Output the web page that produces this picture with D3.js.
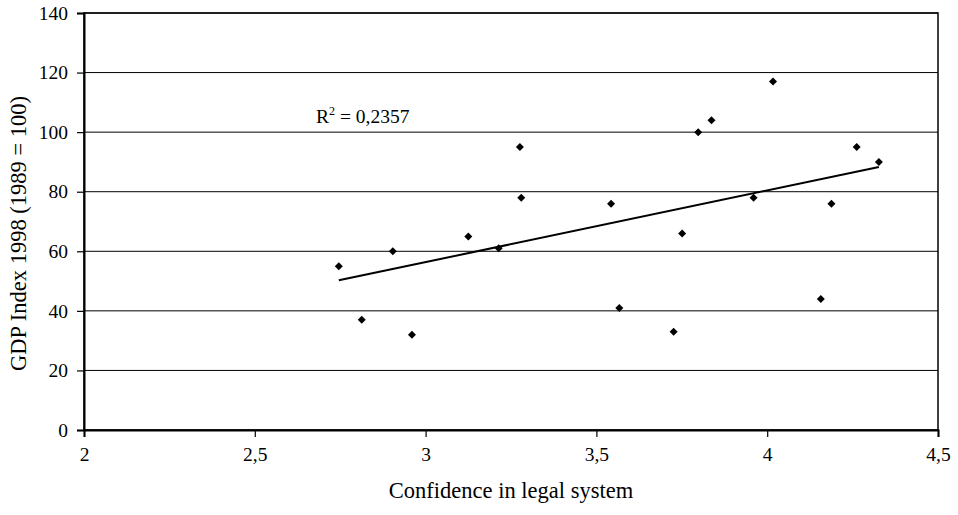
<!DOCTYPE html>
<html>
<head>
<meta charset="utf-8">
<script src="https://cdn.jsdelivr.net/npm/d3@7"></script>
<style>
  body { margin: 0; background: #fff; }
  text { font-family: "Liberation Serif", "Times New Roman", serif; fill: #000; }
</style>
</head>
<body>
<div class="canvas"></div>
<script>
const confidence = [2.746, 2.813, 2.904, 2.960, 3.125, 3.214, 3.276, 3.280, 3.543, 3.567,
                    3.726, 3.751, 3.798, 3.837, 3.960, 4.017, 4.157, 4.188, 4.262, 4.327];
const gdpIndex = [55, 37, 60, 32, 65, 61, 95, 78, 76, 41,
                  33, 66, 100, 104, 78, 117, 44, 76, 95, 90];
const xTicks = [2, 2.5, 3, 3.5, 4, 4.5];
const yTicks = [0, 20, 40, 60, 80, 100, 120, 140];
const rSquaredLabel = "0,2357";

const W = 958, H = 515;
const m = { left: 84, right: 20, top: 13, bottom: 85 };
const serif = "'Liberation Serif', 'Times New Roman', serif";

const svg = d3.select(".canvas").append("svg").attr("width", W).attr("height", H);

const x = d3.scaleLinear().domain([2, 4.5]).range([m.left, W - m.right]);
const y = d3.scaleLinear().domain([0, 140]).range([H - m.bottom, m.top]);

const fmt = d => String(d).replace(".", ",");

// gridlines
svg.append("g")
  .selectAll("line")
  .data(yTicks)
  .join("line")
  .attr("x1", x(2)).attr("x2", x(4.5))
  .attr("y1", d => y(d)).attr("y2", d => y(d))
  .attr("stroke", "#000").attr("stroke-width", 1);

// frame
svg.append("rect")
  .attr("x", x(2)).attr("y", y(140))
  .attr("width", x(4.5) - x(2)).attr("height", y(0) - y(140))
  .attr("fill", "none").attr("stroke", "#000").attr("stroke-width", 1.5);

// axes
const yAxis = svg.append("g")
  .attr("transform", `translate(${x(2)},0)`)
  .call(d3.axisLeft(y).tickValues(yTicks).tickSize(7).tickPadding(9).tickFormat(fmt));
const xAxis = svg.append("g")
  .attr("transform", `translate(0,${y(0)})`)
  .call(d3.axisBottom(x).tickValues(xTicks).tickSize(7).tickPadding(10).tickFormat(fmt));

[yAxis, xAxis].forEach(a => {
  a.attr("font-family", serif).attr("font-size", 19.5);
  a.select(".domain").attr("stroke", "#000").attr("stroke-width", 2);
  a.selectAll(".tick line").attr("stroke", "#000").attr("stroke-width", 1.2);
  a.selectAll("text").attr("fill", "#000").style("font-family", serif);
});

// linear trendline (least squares)
const mx = d3.mean(confidence), my = d3.mean(gdpIndex);
let sxy = 0, sxx = 0;
confidence.forEach((c, i) => { sxy += (c - mx) * (gdpIndex[i] - my); sxx += (c - mx) * (c - mx); });
const slope = sxy / sxx, icpt = my - slope * mx;
const x0 = d3.min(confidence), x1 = d3.max(confidence);
svg.append("line")
  .attr("x1", x(x0)).attr("y1", y(icpt + slope * x0))
  .attr("x2", x(x1)).attr("y2", y(icpt + slope * x1))
  .attr("stroke", "#000").attr("stroke-width", 2);

// points
const diamond = d3.symbol().type(d3.symbolSquare).size(32);
svg.append("g")
  .selectAll("path")
  .data(confidence)
  .join("path")
  .attr("d", diamond)
  .attr("transform", (d, i) => `translate(${x(d)},${y(gdpIndex[i])}) rotate(45)`)
  .attr("fill", "#000");

// R² label
const rl = svg.append("text")
  .attr("x", 316).attr("y", 123)
  .style("font-size", "19.5px");
rl.append("tspan").text("R");
rl.append("tspan").attr("dy", -8).style("font-size", "12px").text("2");
rl.append("tspan").attr("dy", 8).text(" = " + rSquaredLabel);

// axis titles
svg.append("text")
  .attr("x", (x(2) + x(4.5)) / 2).attr("y", 498)
  .attr("text-anchor", "middle")
  .style("font-size", "22.5px")
  .text("Confidence in legal system");

svg.append("text")
  .attr("transform", `translate(26,${(y(0) + y(140)) / 2 + 12}) rotate(-90)`)
  .attr("text-anchor", "middle")
  .style("font-size", "22.5px")
  .text("GDP Index 1998 (1989 = 100)");
</script>
</body>
</html>
